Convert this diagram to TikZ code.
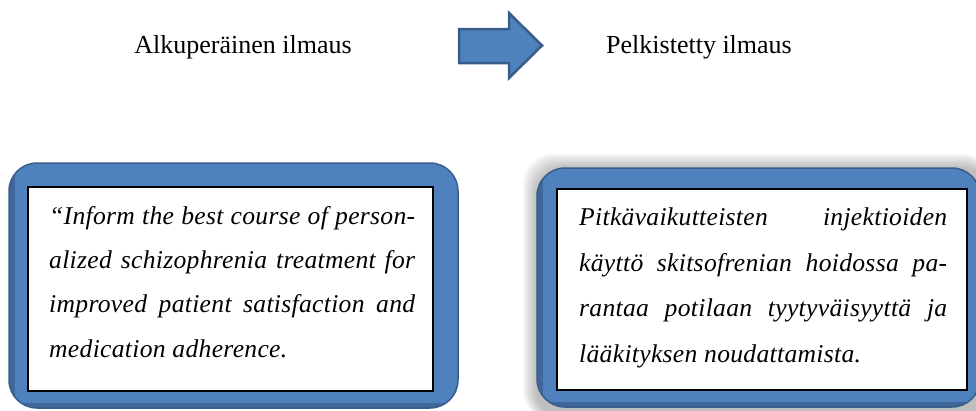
\documentclass[tikz,border=0pt]{standalone}
\usepackage{fontspec}
\setmainfont{Liberation Serif}
\definecolor{boxblue}{HTML}{4F81BD}
\definecolor{edgeblue}{HTML}{385D8A}
\definecolor{bevelblue}{HTML}{3F6799}
\begin{document}
\begin{tikzpicture}[x=1pt,y=-1pt,
  titletext/.style={font=\fontsize{26}{31}\selectfont, inner sep=0pt, anchor=base},
  bluebox/.style={fill=boxblue, rounded corners=28pt},
  blueedge/.style={draw=edgeblue, line width=1.5pt, rounded corners=28pt},
  whitebox/.style={fill=white, draw=black, line width=1.2pt},
  bodyleft/.style={font=\fontsize{25.6}{44.3}\selectfont\itshape\addfontfeature{LetterSpace=1.2}, inner sep=0pt, anchor=north west, align=left},
  bodyright/.style={font=\fontsize{25.6}{45.8}\selectfont\itshape\addfontfeature{LetterSpace=1.2}, inner sep=0pt, anchor=north west, align=left},
  bigarrow/.style={fill=boxblue, draw=edgeblue, line width=2.5pt, line join=miter},
]
\useasboundingbox (0,0) rectangle (976,410);

% titles and arrow
\node[titletext] (orig) at (243,53) {Alkuperäinen ilmaus};
\node[titletext] (simp) at (699,53) {Pelkistetty ilmaus};
\draw[bigarrow] (459,29) -- (509,29) -- (509,13) -- (542,45.5) -- (509,78) -- (509,63) -- (459,63) -- cycle;

% left frame
\fill[bluebox] (9,163) rectangle (458,408);
\begin{scope}
  \clip[rounded corners=28pt] (9,163) rectangle (458,408);
  \fill[bevelblue] (9,163) rectangle (15,408);
  \fill[bevelblue] (9,403) rectangle (458,408);
\end{scope}
\draw[blueedge] (9,163) rectangle (458,408);
\draw[whitebox] (28,187) rectangle (433,391);

% right frame with shadow
\foreach \i in {1,...,12}
  \fill[black, opacity=0.022, rounded corners=30pt] (537-\i*1.2,168-\i*1.2) rectangle (992,420);
\fill[bluebox] (537,168) rectangle (980,407);
\begin{scope}
  \clip[rounded corners=28pt] (537,168) rectangle (980,407);
  \fill[bevelblue] (537,168) rectangle (543,407);
  \fill[bevelblue] (537,402) rectangle (980,407);
\end{scope}
\draw[blueedge] (537,168) rectangle (980,407);
\draw[whitebox] (557,189) rectangle (967,390);

% texts
\node[bodyleft] (origtext) at (49,193) {%
  \strut\makebox[366pt][s]{“Inform the best course of person-}\\
  \strut\makebox[366pt][s]{alized schizophrenia treatment for}\\
  \strut\makebox[366pt][s]{improved patient satisfaction and}\\
  \strut medication adherence.};
\node[bodyright] (simptext) at (579,193) {%
  \strut\makebox[368pt][s]{Pitkävaikutteisten\hfill injektioiden}\\
  \strut\makebox[368pt][s]{käyttö skitsofrenian hoidossa pa-}\\
  \strut\makebox[368pt][s]{rantaa potilaan tyytyväisyyttä ja}\\
  \strut lääkityksen noudattamista.};
\end{tikzpicture}
\end{document}
